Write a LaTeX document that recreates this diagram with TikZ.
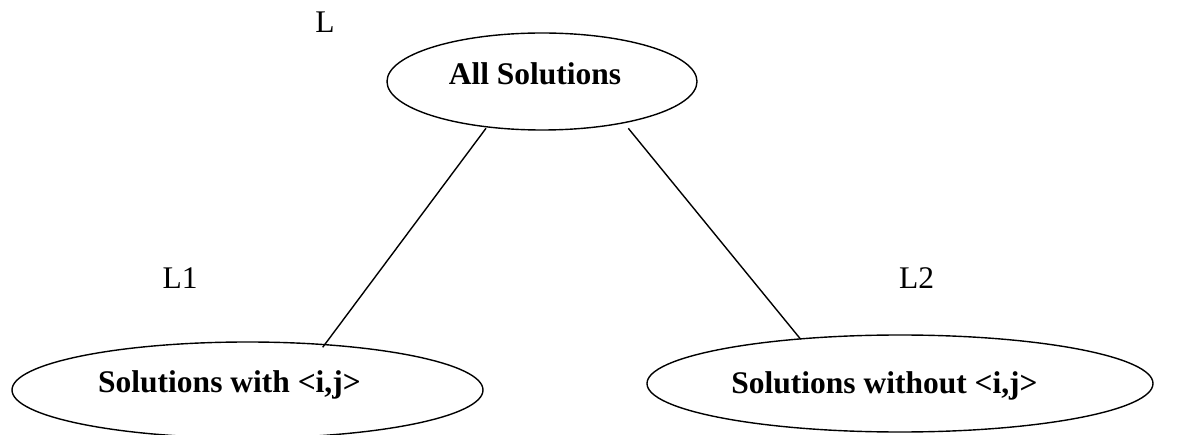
\documentclass[tikz,border=0pt]{standalone}
\usepackage{fontspec}
\setmainfont{Liberation Serif}
\usetikzlibrary{shapes.geometric}
\begin{document}
\begin{tikzpicture}[x=1pt,y=1pt,
  oval/.style={draw=black, line width=1.4pt, ellipse, inner sep=0pt, fill=none},
  boldlbl/.style={anchor=base, inner sep=0pt, font=\fontsize{31.5}{36}\selectfont\bfseries},
  plainlbl/.style={anchor=base, inner sep=0pt, font=\fontsize{31.5}{36}\selectfont},
  conn/.style={draw=black, line width=1.4pt}]
\useasboundingbox (0,0) rectangle (1188,-435);
\clip (0,0) rectangle (1188,-435);
\fill[white] (0,0) rectangle (1188,-435);
% ellipses
\node[oval, minimum width=310pt, minimum height=97pt] (all) at (542,-81.5) {};
\node[oval, minimum width=471pt, minimum height=96pt] (with) at (247.5,-390) {};
\node[oval, minimum width=506pt, minimum height=97pt] (without) at (900,-383.5) {};
% texts
\node[boldlbl] (allt) at (535,-85) {All Solutions};
\node[boldlbl] (witht) at (229.5,-392) {Solutions with <i,j>};
\node[boldlbl] (withoutt) at (884.5,-393) {Solutions without <i,j>};
\node[plainlbl] (l0) at (325,-33) {L};
\node[plainlbl] (l1) at (180,-289) {L1};
\node[plainlbl] (l2) at (916.5,-289) {L2};
% connector end points
\coordinate (a1) at (486,-128.3);
\coordinate (b1) at (322.7,-347.3);
\coordinate (a2) at (628.3,-128.3);
\coordinate (b2) at (800.7,-339.3);
\draw[conn] (a1) -- (b1);
\draw[conn] (a2) -- (b2);
\end{tikzpicture}
\end{document}
